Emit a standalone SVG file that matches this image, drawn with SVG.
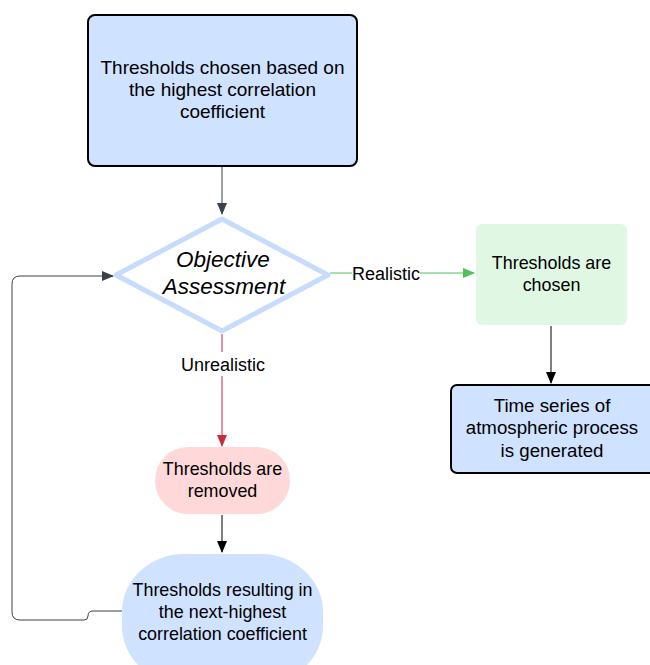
<svg xmlns="http://www.w3.org/2000/svg" width="650" height="665" viewBox="0 0 650 665">
<style>
text{font-family:"Liberation Sans",Arial,sans-serif;font-size:19px;fill:#000;text-anchor:middle}
.s{font-size:17.9px}
.lbl{font-size:18px}
.it{font-style:italic;font-size:22.5px}
.blue{fill:#cfe2ff;stroke:#000;stroke-width:2}
</style>
<defs>
<marker id="ag" markerWidth="12" markerHeight="10" refX="11" refY="5" orient="auto" markerUnits="userSpaceOnUse"><path d="M0,0 L12,5 L0,10 Z" fill="#3a414a"/></marker>
<marker id="ak" markerWidth="12" markerHeight="10" refX="11" refY="5" orient="auto" markerUnits="userSpaceOnUse"><path d="M0,0 L12,5 L0,10 Z" fill="#000"/></marker>
<marker id="ar" markerWidth="12" markerHeight="10" refX="11" refY="5" orient="auto" markerUnits="userSpaceOnUse"><path d="M0,0 L12,5 L0,10 Z" fill="#c92d3a"/></marker>
<marker id="agr" markerWidth="12" markerHeight="10" refX="11" refY="5" orient="auto" markerUnits="userSpaceOnUse"><path d="M0,0 L12,5 L0,10 Z" fill="#4ec15a"/></marker>
</defs>
<rect width="650" height="665" fill="#fff"/>
<g id="connectors" fill="none" stroke-width="1">
<path d="M222,167 V214" stroke="#3a414a" marker-end="url(#ag)"/>
<path d="M330,273 H474" stroke="#4ec15a" marker-end="url(#agr)"/>
<path d="M222,334 V446" stroke="#c92d3a" marker-end="url(#ar)"/>
<path d="M551,326 V383" stroke="#000" marker-end="url(#ak)"/>
<path d="M222,515 V552" stroke="#000" marker-end="url(#ak)"/>
<path d="M122,611 H93 Q88,611 88,616 Q88,620 84,620 H20 Q12,620 12,612 V284 Q12,276 20,276 H113" stroke="#3a414a" marker-end="url(#ag)"/>
<rect x="352" y="262" width="68" height="22" fill="#fff" stroke="none"/>
<text class="lbl" x="386" y="279.5">Realistic</text>
<rect x="179" y="352" width="88" height="24" fill="#fff" stroke="none"/>
<text class="lbl" x="223" y="370.5">Unrealistic</text>
</g>
<g id="n1">
<rect class="blue" x="88" y="15" width="269" height="151" rx="7"/>
<text x="222.5" y="73.5">Thresholds chosen based on</text>
<text x="222.5" y="95.5">the highest correlation</text>
<text x="222.5" y="117.5">coefficient</text>
</g>
<g id="n2">
<path d="M222,219 L328,275 L222,331 L116,275 Z" fill="#fff" stroke="#c7dcfc" stroke-width="5" stroke-linejoin="round"/>
<text class="it" x="223" y="267">Objective</text>
<text class="it" x="224" y="294">Assessment</text>
</g>
<g id="n3">
<rect x="476" y="224" width="151" height="101" rx="6" fill="#e0f8e3"/>
<text class="s" x="551.5" y="268.5">Thresholds are</text>
<text class="s" x="551.5" y="290.5">chosen</text>
</g>
<g id="n4">
<rect class="blue" x="451" y="385" width="205" height="88" rx="6"/>
<text x="552" y="411.5" style="font-size:18.7px">Time series of</text>
<text x="552" y="434" style="font-size:18.7px">atmospheric process</text>
<text x="552" y="456.5" style="font-size:18.7px">is generated</text>
</g>
<g id="n5">
<rect x="155" y="447" width="135" height="67" rx="33" fill="#ffd9d9"/>
<text class="s" x="222.5" y="474.5">Thresholds are</text>
<text class="s" x="222.5" y="496.5">removed</text>
</g>
<g id="n6">
<rect x="122" y="554" width="201" height="130" rx="62" ry="58" fill="#cfe2ff"/>
<text class="s" x="222.5" y="595.5">Thresholds resulting in</text>
<text class="s" x="222.5" y="617.5">the next-highest</text>
<text class="s" x="222.5" y="639.5">correlation coefficient</text>
</g>
</svg>
